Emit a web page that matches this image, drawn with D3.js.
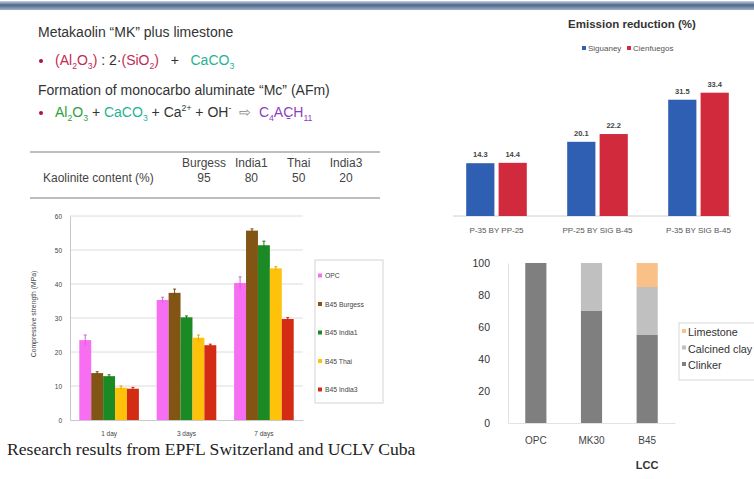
<!DOCTYPE html>
<html>
<head>
<meta charset="utf-8">
<script src="https://cdn.jsdelivr.net/npm/d3@7"></script>
<style>
  html, body { margin: 0; padding: 0; background: #ffffff; }
  svg { display: block; font-family: "Liberation Sans", Arial, sans-serif; }
  text { white-space: pre; }
</style>
</head>
<body>
<svg id="slide" width="754" height="479"></svg>
<script>
// ---- Kaolinite table ----
const clays = ["Burgess", "India1", "Thai", "India3"];
const kaolinite = [95, 80, 50, 20];

// ---- Compressive strength (MPa) by age ----
const ages = ["1 day", "3 days", "7 days"];
const mixes = ["OPC", "B45 Burgess", "B45 India1", "B45 Thai", "B45 India3"];
const strengthOPC     = [23.5, 35.3, 40.3];
const strengthBurgess = [13.8, 37.4, 55.7];
const strengthIndia1  = [12.9, 30.2, 51.4];
const strengthThai    = [9.5, 24.2, 44.6];
const strengthIndia3  = [9.2, 22.0, 29.7];
const errOPC     = [1.5, 0.8, 1.8];
const errBurgess = [0.4, 1.1, 0.5];
const errIndia1  = [0.4, 0.4, 1.2];
const errThai    = [0.5, 0.8, 0.5];
const errIndia3  = [0.4, 0.3, 0.4];
const strengthTicks = [0, 10, 20, 30, 40, 50, 60];

// ---- Emission reduction (%) ----
const cases = ["P-35 BY PP-25", "PP-25 BY SIG B-45", "P-35 BY SIG B-45"];
const plants = ["Siguaney", "Cienfuegos"];
const reductionSiguaney   = [14.3, 20.1, 31.5];
const reductionCienfuegos = [14.4, 22.2, 33.4];

// ---- Cement composition (%) ----
const cements = ["OPC", "MK30", "B45"];
const parts = ["Clinker", "Calcined clay", "Limestone"];
const clinker      = [100, 70, 55];
const calcinedClay = [0, 30, 30];
const limestone    = [0, 0, 15];
const compositionTicks = [0, 20, 40, 60, 80, 100];

const svg = d3.select("#slide");

// ---------- header rule ----------
const defs = svg.append("defs");
const hg = defs.append("linearGradient").attr("id", "rule").attr("x1", 0).attr("x2", 0).attr("y1", 0).attr("y2", 1);
hg.append("stop").attr("offset", "0%").attr("stop-color", "#c9d5e6");
hg.append("stop").attr("offset", "45%").attr("stop-color", "#4d6689");
hg.append("stop").attr("offset", "100%").attr("stop-color", "#9db0cc");
svg.append("rect").attr("x", 0).attr("y", 1).attr("width", 754).attr("height", 9).attr("fill", "url(#rule)");

// ---------- chemistry lines ----------
const dark = "#333333", crimson = "#c22a55", teal = "#1fb394", green = "#2c9e3c", purple = "#8a3fbf";

function richText(x, y, segs, size) {
  const t = svg.append("text").attr("x", x).attr("y", y).attr("font-size", size).attr("fill", dark);
  let shift = 0;
  segs.forEach(s => {
    const target = s.sub ? size * 0.3 : s.sup ? -size * 0.4 : 0;
    const ts = t.append("tspan").text(s.t).attr("fill", s.c || dark);
    if (target !== shift) ts.attr("dy", target - shift);
    if (s.sub || s.sup) ts.attr("font-size", size * 0.62);
    shift = target;
  });
  return t;
}
function bullet(x, y) {
  svg.append("circle").attr("cx", x).attr("cy", y).attr("r", 2).attr("fill", "#b0103f");
}

const fs = 14;
richText(38, 37, [{t: "Metakaolin “MK” plus limestone"}], fs);
bullet(41, 61);
richText(55, 65, [
  {t: "(Al", c: crimson}, {t: "2", c: crimson, sub: 1}, {t: "O", c: crimson}, {t: "3", c: crimson, sub: 1}, {t: ")", c: crimson},
  {t: " : 2·"}, {t: "(SiO", c: crimson}, {t: "2", c: crimson, sub: 1}, {t: ")", c: crimson},
  {t: "   +   "}, {t: "CaCO", c: teal}, {t: "3", c: teal, sub: 1}
], fs);
richText(38, 95, [{t: "Formation of monocarbo aluminate “Mc” (AFm)"}], fs);
bullet(41, 113);
richText(55, 117, [
  {t: "Al", c: green}, {t: "2", c: green, sub: 1}, {t: "O", c: green}, {t: "3", c: green, sub: 1},
  {t: " + "}, {t: "CaCO", c: teal}, {t: "3", c: teal, sub: 1},
  {t: " + Ca"}, {t: "2+", sup: 1}, {t: " + OH"}, {t: "-", sup: 1},
  {t: "  ⇨  ", c: "#888"}, {t: "C", c: purple}, {t: "4", c: purple, sub: 1}, {t: "AC\u0331", c: purple},
  {t: "H", c: purple}, {t: "11", c: purple, sub: 1}
], fs);

// ---------- kaolinite table ----------
const tbl = svg.append("g").attr("font-size", 12).attr("fill", "#444");
tbl.append("line").attr("x1", 30).attr("x2", 380).attr("y1", 152).attr("y2", 152).attr("stroke", "#a8a8a8").attr("stroke-width", 1.5);
tbl.append("line").attr("x1", 30).attr("x2", 380).attr("y1", 198).attr("y2", 198).attr("stroke", "#a8a8a8").attr("stroke-width", 1.5);
const colX = d3.scalePoint().domain(clays).range([204, 346]);
tbl.selectAll("text.h").data(clays).join("text").attr("class", "h")
  .attr("x", d => colX(d)).attr("y", 167).attr("text-anchor", "middle").text(d => d);
tbl.append("text").attr("x", 43).attr("y", 182).text("Kaolinite content (%)");
tbl.selectAll("text.v").data(kaolinite).join("text").attr("class", "v")
  .attr("x", (d, i) => colX(clays[i])).attr("y", 182).attr("text-anchor", "middle").text(d => d);

// ---------- compressive strength chart ----------
const strength = [strengthOPC, strengthBurgess, strengthIndia1, strengthThai, strengthIndia3];
const errs = [errOPC, errBurgess, errIndia1, errThai, errIndia3];
const mixColors = ["#f86ef2", "#825514", "#1c8a24", "#ffc20a", "#d42c14"];

const cs = svg.append("g");
const cx0 = d3.scaleBand().domain(ages).range([70, 303]).paddingInner(0.23).paddingOuter(0.12);
const cx1 = d3.scaleBand().domain(mixes).range([0, cx0.bandwidth()]);
const cy = d3.scaleLinear().domain([0, 60]).range([420, 216]);

cs.append("g").selectAll("line").data(strengthTicks.slice(1)).join("line")
  .attr("x1", 70).attr("x2", 303).attr("y1", d => cy(d)).attr("y2", d => cy(d))
  .attr("stroke", "#dcdcdc").attr("stroke-width", 1);
const cyAxis = cs.append("g").attr("transform", "translate(70,0)")
  .call(d3.axisLeft(cy).tickValues(strengthTicks).tickSize(0).tickPadding(8));
cyAxis.select(".domain").attr("stroke", "#c8c8c8");
cyAxis.selectAll("text").attr("font-size", 6.5).attr("fill", "#444").attr("font-family", "Liberation Sans, Arial, sans-serif");
const cxAxis = cs.append("g").attr("transform", "translate(0,420)")
  .call(d3.axisBottom(cx0).tickSize(0).tickPadding(11));
cxAxis.select(".domain").attr("stroke", "#c8c8c8");
cxAxis.selectAll("text").attr("font-size", 6.5).attr("fill", "#444").attr("font-family", "Liberation Sans, Arial, sans-serif");

mixes.forEach((m, mi) => {
  const g = cs.append("g");
  g.selectAll("rect").data(strength[mi]).join("rect")
    .attr("x", (d, i) => cx0(ages[i]) + cx1(m))
    .attr("y", d => cy(d)).attr("width", cx1.bandwidth()).attr("height", d => cy(0) - cy(d))
    .attr("fill", mixColors[mi]);
  g.selectAll("path").data(strength[mi]).join("path")
    .attr("d", (d, i) => {
      const x = cx0(ages[i]) + cx1(m) + cx1.bandwidth() / 2;
      const y1 = cy(d + errs[mi][i]), y2 = cy(d - errs[mi][i]);
      return `M${x},${y1}V${y2}M${x - 1.5},${y1}H${x + 1.5}`;
    })
    .attr("stroke", d3.color(mixColors[mi]).darker(0.4)).attr("stroke-width", 1).attr("fill", "none");
});

cs.append("text").attr("transform", "translate(36,314) rotate(-90)")
  .attr("text-anchor", "middle").attr("font-size", 6.8).attr("fill", "#444")
  .text("Compressive strength (MPa)");

const cl = cs.append("g");
cl.append("rect").attr("x", 315).attr("y", 260).attr("width", 68).attr("height", 143)
  .attr("fill", "#fff").attr("stroke", "#d4d4d4");
const ly = d3.scalePoint().domain(mixes).range([276, 390]);
cl.selectAll("rect.k").data(mixes).join("rect").attr("class", "k")
  .attr("x", 318).attr("y", d => ly(d) - 2.5).attr("width", 4).attr("height", 4)
  .attr("fill", (d, i) => mixColors[i]);
cl.selectAll("text").data(mixes).join("text")
  .attr("x", 325).attr("y", d => ly(d) + 2.3).attr("font-size", 6.8).attr("fill", "#444").text(d => d);

// ---------- emission reduction chart ----------
const reduction = [reductionSiguaney, reductionCienfuegos];
const plantColors = ["#2f5fb2", "#d02a3c"];
const es = svg.append("g");
const ex0 = d3.scaleBand().domain(cases).range([446, 749]).paddingInner(0.4).paddingOuter(0.2);
const ex1 = d3.scaleBand().domain(plants).range([0, ex0.bandwidth()]).paddingInner(0.13);
const ey = d3.scaleLinear().domain([0, 33.4]).range([216, 92.7]);

es.append("text").attr("x", 632).attr("y", 28).attr("text-anchor", "middle")
  .attr("font-size", 11.5).attr("font-weight", "bold").attr("fill", "#333").text("Emission reduction (%)");
const legX = [582, 627];
plants.forEach((p, i) => {
  es.append("rect").attr("x", legX[i]).attr("y", 46).attr("width", 4).attr("height", 4).attr("fill", plantColors[i]);
  es.append("text").attr("x", legX[i] + 6).attr("y", 51).attr("font-size", 8).attr("fill", "#555").text(p);
});

es.append("line").attr("x1", 453).attr("x2", 731).attr("y1", ey(0)).attr("y2", ey(0))
  .attr("stroke", "#d0d0d0").attr("stroke-width", 1);
plants.forEach((p, pi) => {
  es.append("g").selectAll("rect").data(reduction[pi]).join("rect")
    .attr("x", (d, i) => ex0(cases[i]) + ex1(p)).attr("y", d => ey(d))
    .attr("width", ex1.bandwidth()).attr("height", d => ey(0) - ey(d)).attr("fill", plantColors[pi]);
  es.append("g").selectAll("text").data(reduction[pi]).join("text")
    .attr("x", (d, i) => ex0(cases[i]) + ex1(p) + ex1.bandwidth() / 2).attr("y", d => ey(d) - 6)
    .attr("text-anchor", "middle").attr("font-size", 7.5).attr("font-weight", "bold").attr("fill", "#444")
    .text(d => d.toFixed(1));
});
es.append("g").selectAll("text").data(cases).join("text")
  .attr("x", d => ex0(d) + ex0.bandwidth() / 2).attr("y", 233).attr("text-anchor", "middle")
  .attr("font-size", 8).attr("fill", "#555").text(d => d);

// ---------- cement composition chart ----------
const partColors = ["#7f7f7f", "#c0c0c0", "#f9c088"];
const rows = cements.map((c, i) => ({cement: c, "Clinker": clinker[i], "Calcined clay": calcinedClay[i], "Limestone": limestone[i]}));
const stack = d3.stack().keys(parts)(rows);
const ss = svg.append("g");
const sx = d3.scaleBand().domain(cements).range([508, 675]).paddingInner(0.62).paddingOuter(0.31);
const sy = d3.scaleLinear().domain([0, 100]).range([423, 263]);

const syAxis = ss.append("g").attr("transform", "translate(508,0)")
  .call(d3.axisLeft(sy).tickValues(compositionTicks).tickSize(0).tickPadding(18));
syAxis.select(".domain").attr("stroke", "#e2e2e2");
syAxis.selectAll("text").attr("font-size", 10.5).attr("fill", "#333").attr("font-family", "Liberation Sans, Arial, sans-serif");
const sxAxis = ss.append("g").attr("transform", "translate(0,423)")
  .call(d3.axisBottom(sx).tickSize(0).tickPadding(14));
sxAxis.select(".domain").attr("stroke", "#e2e2e2");
sxAxis.selectAll("text").attr("font-size", 10).attr("fill", "#444").attr("font-family", "Liberation Sans, Arial, sans-serif");

ss.selectAll("g.layer").data(stack).join("g").attr("class", "layer")
  .attr("fill", (d, i) => partColors[i])
  .selectAll("rect").data(d => d).join("rect")
  .attr("x", d => sx(d.data.cement)).attr("y", d => sy(d[1]))
  .attr("width", sx.bandwidth()).attr("height", d => sy(d[0]) - sy(d[1]));

ss.append("text").attr("x", sx("B45") + sx.bandwidth() / 2).attr("y", 469).attr("text-anchor", "middle")
  .attr("font-size", 11).attr("font-weight", "bold").attr("fill", "#333").text("LCC");

// legend box runs off the right edge of the slide
const sl = ss.append("g");
sl.append("rect").attr("x", 679).attr("y", 323).attr("width", 90).attr("height", 57)
  .attr("fill", "#fff").attr("stroke", "#d8d8d8");
const legendOrder = parts.slice().reverse();
const sly = d3.scalePoint().domain(legendOrder).range([332, 365]);
sl.selectAll("rect.k").data(legendOrder).join("rect").attr("class", "k")
  .attr("x", 682).attr("y", d => sly(d) - 3).attr("width", 4).attr("height", 4)
  .attr("fill", d => partColors[parts.indexOf(d)]);
sl.selectAll("text").data(legendOrder).join("text")
  .attr("x", 688).attr("y", d => sly(d) + 4).attr("font-size", 10.8).attr("fill", "#333").text(d => d);

// ---------- caption ----------
svg.append("text").attr("x", 7).attr("y", 455)
  .attr("font-family", "Liberation Serif, 'Times New Roman', serif").attr("font-size", 17.6).attr("fill", "#222")
  .text("Research results from EPFL Switzerland and UCLV Cuba");
</script>
</body>
</html>
